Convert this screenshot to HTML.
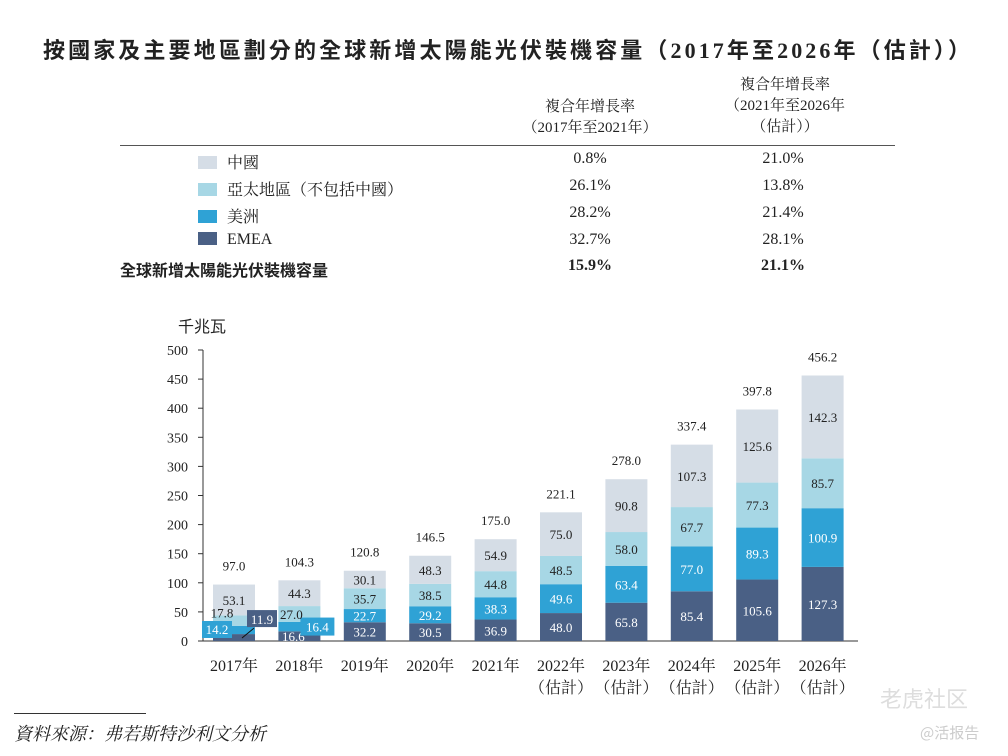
<!DOCTYPE html>
<html><head><meta charset="utf-8">
<style>
body{margin:0;width:1008px;height:756px;background:#fff;overflow:hidden;font-family:"Liberation Serif","Noto Serif CJK SC","Noto Sans CJK TC",serif;color:#222;}
.abs{position:absolute;}
</style></head>
<body>
<div class="abs" style="left:43px;top:33px;white-space:nowrap;font-family:'Liberation Serif','Noto Sans CJK TC',sans-serif;font-weight:bold;font-size:22px;letter-spacing:3.1px;">按國家及主要地區劃分的全球新增太陽能光伏裝機容量（2017年至2026年（估計））</div>
<div class="abs" style="left:500px;top:97px;width:180px;text-align:center;font-size:15px;line-height:21px;">複合年增長率<br>（2017年至2021年）</div>
<div class="abs" style="left:695px;top:75px;width:180px;text-align:center;font-size:15px;line-height:21px;">複合年增長率<br>（2021年至2026年<br>（估計））</div>
<div class="abs" style="left:120px;top:145px;width:775px;height:1px;background:#555;"></div>
<div id="rows"></div>
<div class="abs" style="left:178px;top:313px;font-size:16px;font-family:'Noto Sans CJK TC',sans-serif;">千兆瓦</div>
<svg class="abs" style="left:0;top:0" width="1008" height="756" id="chart"></svg>
<div class="abs" style="left:14px;top:713px;width:132px;height:1px;background:#333;"></div>
<div class="abs" style="left:14px;top:720px;font-size:18px;font-style:italic;">資料來源：弗若斯特沙利文分析</div>
<div class="abs" style="left:880px;top:682px;font-size:22px;color:#ddd;font-family:'Noto Sans CJK SC',sans-serif;">老虎社区</div>
<div class="abs" style="left:920px;top:722px;font-size:15px;color:#ccc;font-family:'Noto Sans CJK SC',sans-serif;">@活报告</div>
<script>
const years=["2017年","2018年","2019年","2020年","2021年","2022年","2023年","2024年","2025年","2026年"];
const estimated=[false,false,false,false,false,true,true,true,true,true];
const emea=[11.9,16.6,32.2,30.5,36.9,48.0,65.8,85.4,105.6,127.3];
const americas=[14.2,16.4,22.7,29.2,38.3,49.6,63.4,77.0,89.3,100.9];
const apac=[17.8,27.0,35.7,38.5,44.8,48.5,58.0,67.7,77.3,85.7];
const china=[53.1,44.3,30.1,48.3,54.9,75.0,90.8,107.3,125.6,142.3];
const totals=[97.0,104.3,120.8,146.5,175.0,221.1,278.0,337.4,397.8,456.2];
const yTicks=[0,50,100,150,200,250,300,350,400,450,500];
const legendNames=["中國","亞太地區（不包括中國）","美洲","EMEA"];
const cagr1=["0.8%","26.1%","28.2%","32.7%"];
const cagr2=["21.0%","13.8%","21.4%","28.1%"];
const totalCagr1="15.9%",totalCagr2="21.1%";
const colors=["#d5dde6","#a7d7e5","#2fa2d5","#4a6085"];

const rows=document.getElementById('rows');
legendNames.forEach((n,i)=>{
  const top=150+i*27;
  const r=document.createElement('div');r.className='abs';r.style.cssText=`left:198px;top:${top}px;font-size:16px;`;
  
  
  r.innerHTML=`<span style="display:inline-block;width:19px;height:13px;background:${colors[i]};margin-right:10px;vertical-align:-1px"></span>${n}`;
  rows.appendChild(r);
  [[cagr1[i],590],[cagr2[i],783]].forEach(([t,x])=>{
    const c=document.createElement('div');c.className='abs';c.style.cssText=`left:${x-50}px;width:100px;text-align:center;top:${top}px;font-size:16px;`;
    
    
    c.textContent=t;rows.appendChild(c);
  });
});
const tr=document.createElement('div');tr.className='abs';tr.style.cssText='left:120px;top:257px;font-size:16px;font-weight:bold;font-family:"Noto Sans CJK TC",sans-serif;';


tr.textContent='全球新增太陽能光伏裝機容量';rows.appendChild(tr);
[[totalCagr1,590],[totalCagr2,783]].forEach(([t,x])=>{
  const c=document.createElement('div');c.className='abs';c.style.cssText=`left:${x-50}px;width:100px;text-align:center;top:257px;font-size:16px;font-weight:bold;`;
  
  
  c.textContent=t;rows.appendChild(c);
});

const svg=document.getElementById('chart');const NS='http://www.w3.org/2000/svg';
const y0=641,yTop=350,vMax=500;
const y=v=>y0-(v/vMax)*(y0-yTop);
const x=i=>234+i*65.4;
const bw=42;
function el(tag,attrs,name,text){const e=document.createElementNS(NS,tag);for(const k in attrs)e.setAttribute(k,attrs[k]);
  
  
  if(text!==undefined)e.textContent=text;svg.appendChild(e);return e;}
el('line',{x1:203,y1:y(0),x2:203,y2:y(500),stroke:'#333','stroke-width':1},'y-axis');
el('line',{x1:203,y1:y(0),x2:858,y2:y(0),stroke:'#333','stroke-width':1},'x-axis');
yTicks.forEach(t=>{
  el('line',{x1:198,y1:y(t),x2:203,y2:y(t),stroke:'#333'},'y-tick');
  el('text',{x:188,y:y(t)+5,'text-anchor':'end','font-size':14,fill:'#222'},'y-tick-label',t);
});
const series=[emea,americas,apac,china];const sc=[colors[3],colors[2],colors[1],colors[0]];
const tc=['#fff','#fff','#222','#222'];
years.forEach((yr,i)=>{
  let cum=0;
  series.forEach((s,k)=>{
    const v=s[i];
    el('rect',{x:x(i)-bw/2,y:y(cum+v),width:bw,height:y(cum)-y(cum+v),fill:sc[k]},'bar-segment');
    cum+=v;
  });
});
years.forEach((yr,i)=>{
  let cum=0;
  series.forEach((s,k)=>{
    const v=s[i];
    let lx=x(i),ly=(y(cum)+y(cum+v))/2+5;
    if(i===0&&k===0){lx=x(i)+28;ly=y(cum+v)-10;
      el('line',{x1:x(i)+8,y1:y(0)-3,x2:x(i)+20,y2:ly+4,stroke:'#111'},'leader-line');
      el('rect',{x:lx-15,y:ly-14,width:30,height:17,fill:sc[k]},'label-box');}
    else if(i===0&&k===1){lx=x(i)-17;ly=y(0)-7;
      el('rect',{x:lx-15,y:ly-13,width:30,height:17,fill:sc[k]},'label-box');}
    else if(i===1&&k===1){lx=x(i)+18;
      el('rect',{x:lx-17,y:ly-14,width:34,height:18,fill:sc[k]},'label-box');}
    else if(i===1&&k===0){lx=x(i)-6;}
    else if(i===0&&k===2){lx=x(i)-12;ly-=8;}
    else if(i===1&&k===2){lx=x(i)-8;}
    el('text',{x:lx,y:ly,'text-anchor':'middle','font-size':13,fill:tc[k]},'bar-value',v.toFixed(1));
    cum+=v;
  });
  el('text',{x:x(i),y:y(totals[i])-14,'text-anchor':'middle','font-size':13,fill:'#222'},'bar-total',totals[i].toFixed(1));
  el('text',{x:x(i),y:671,'text-anchor':'middle','font-size':16,fill:'#222'},'x-tick-label',yr);
  if(estimated[i])el('text',{x:x(i),y:693,'text-anchor':'middle','font-size':16,fill:'#222'},'x-tick-sublabel','（估計）');
});
</script>
</body></html>
